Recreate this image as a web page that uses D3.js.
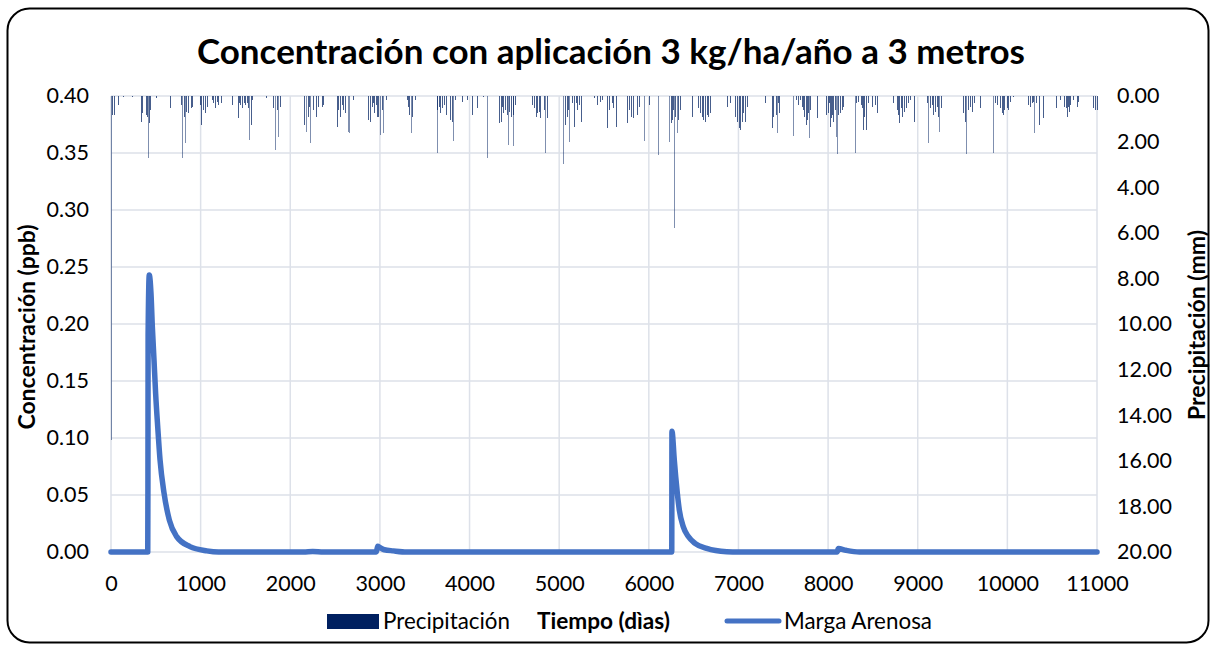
<!DOCTYPE html>
<html>
<head>
<meta charset="utf-8">
<script src="https://cdn.jsdelivr.net/npm/d3@7"></script>
<style>
  html, body { margin: 0; padding: 0; background: #ffffff; }
  svg { display: block; }
  text { font-family: Lato, "Open Sans", sans-serif; fill: #000; }
</style>
</head>
<body>
<svg id="chart" width="1215" height="648"></svg>
<script>
// Daily precipitation events (day, mm)
const precipDays = [5,15,37,74,138,231,331,342,387,402,417,428,435,498,662,781,789,811,830,841,856,893,908,993,1004,1030,1049,1068,1123,1142,1161,1179,1198,1228,1354,1414,1428,1443,1466,1481,1495,1514,1533,1544,1562,1577,1733,1804,1830,1849,1867,1886,2158,2176,2195,2210,2225,2258,2284,2314,2351,2370,2518,2537,2556,2574,2593,2611,2641,2660,2704,2871,2890,2909,2928,2939,2954,2965,2983,3002,3020,3039,3065,3300,3318,3329,3347,3362,3392,3634,3641,3656,3671,3689,3719,3737,3782,3800,3819,3837,3912,3967,4031,4079,4146,4198,4332,4347,4362,4377,4395,4414,4425,4443,4462,4481,4488,4510,4693,4719,4741,4756,4771,4786,4830,4838,4867,5046,5064,5083,5102,5113,5139,5169,5187,5202,5224,5247,5388,5425,5455,5473,5537,5559,5585,5604,5633,5760,5778,5797,5827,5871,5894,5949,6005,6106,6228,6243,6254,6273,6284,6295,6310,6329,6347,6485,6552,6570,6589,6608,6626,6645,6663,6682,6875,6905,6961,6979,7002,7017,7035,7054,7072,7091,7296,7370,7388,7418,7429,7444,7455,7612,7638,7667,7686,7705,7723,7734,7749,7768,7779,7790,7797,7879,7972,7995,8009,8021,8032,8047,8058,8076,8091,8099,8114,8132,8151,8169,8299,8307,8337,8367,8381,8392,8404,8422,8448,8485,8523,8541,8727,8764,8783,8794,8813,8827,8850,8865,8887,8913,8961,9099,9118,9136,9155,9173,9192,9210,9229,9240,9259,9508,9527,9541,9564,9582,9601,9627,9694,9843,9861,9880,9917,9936,9951,9965,9991,10010,10029,10058,10233,10252,10270,10289,10300,10315,10356,10393,10538,10587,10635,10650,10665,10680,10691,10702,10735,10772,10791,10957,10983,10995];
const precipMm = [15.1,0.83,0.83,0.39,0.06,0.03,1.13,0.76,0.83,0.9,2.73,1.2,0.6,0.1,0.54,0.4,2.73,0.9,2.05,0.7,0.76,0.54,0.47,0.4,1.27,0.61,0.76,0.47,0.18,0.32,0.54,0.25,0.4,0.32,0.4,0.98,0.32,0.4,0.54,0.3,0.4,0.32,0.54,1.93,1.27,0.18,0.1,0.54,2.37,0.61,1.78,0.47,1.27,1.56,0.9,0.5,2.08,0.61,0.9,0.47,0.47,0.4,1.35,0.61,0.9,0.4,0.61,0.76,1.56,1.64,0.18,1.05,1.13,0.47,0.3,0.76,0.4,0.9,0.9,1.71,0.61,1.64,0.18,0.18,0.5,0.83,1.64,0.9,0.18,0.61,2.49,0.5,0.76,0.54,0.4,0.83,1.05,1.13,1.96,0.18,0.25,0.18,0.83,0.54,0.03,2.73,1.2,1.13,0.47,0.76,0.61,0.83,2.15,0.69,0.9,0.83,2.19,0.4,0.4,0.54,0.9,0.76,0.69,0.98,0.61,2.49,0.98,2.98,1.27,0.9,0.61,2.0,0.32,1.35,0.32,0.61,0.4,1.13,0.1,0.4,0.25,0.18,1.42,0.61,0.32,0.54,1.35,1.2,0.61,0.9,0.98,0.83,0.47,1.96,0.4,2.59,2.0,1.2,1.05,0.61,5.8,0.9,1.64,1.05,0.61,0.9,0.54,0.76,0.9,1.05,1.13,0.83,0.9,0.76,0.47,0.32,0.9,1.13,1.42,1.49,1.13,0.76,1.13,0.47,0.32,1.42,0.9,0.83,1.64,0.32,0.76,1.75,0.18,0.4,0.18,0.47,0.61,0.9,1.27,1.05,0.76,1.86,0.61,0.98,0.83,0.76,0.32,1.35,0.98,0.83,1.13,0.61,1.78,2.54,0.83,0.76,0.61,0.47,2.51,0.32,0.25,0.4,0.54,1.49,0.9,1.49,0.32,0.47,0.4,0.76,0.32,0.61,0.83,1.2,0.54,0.9,0.69,0.54,0.32,0.18,1.13,0.32,2.05,0.54,0.4,0.83,0.69,0.47,0.9,1.56,0.54,0.76,1.13,2.54,0.61,0.47,0.69,0.32,0.54,2.49,0.32,0.4,0.54,0.76,0.83,0.61,0.54,0.61,0.25,0.03,0.4,0.47,0.32,0.25,1.64,0.32,1.27,0.98,0.54,0.18,0.47,0.54,0.9,0.47,0.69,0.4,0.18,0.47,0.25,0.54,0.61,0.61];

// Simulated concentration, sandy loam (day, ppb)
const concDays = [0,405,410,412,414,427,446,461,480,498,521,547,591,651,733,881,1068,1200,2150,2250,2370,2960,2975,3000,3050,3150,3300,6250,6256,6258,6284,6300,6318,6340,6385,6441,6515,6646,6869,7000,8100,8115,8200,8350,11000];
const concVals = [0,0,0,0.057,0.19,0.243,0.227,0.198,0.168,0.139,0.110,0.081,0.052,0.028,0.0135,0.0047,0.001,0,0,0.0004,0,0,0.005,0.004,0.002,0.001,0,0,0,0.106,0.081,0.066,0.0515,0.037,0.022,0.0135,0.0076,0.0032,0.0003,0,0,0.003,0.0015,0,0];

// Axis ticks
const xTicks = [0,1000,2000,3000,4000,5000,6000,7000,8000,9000,10000,11000];
const yLeftTicks = [0,0.05,0.10,0.15,0.20,0.25,0.30,0.35,0.40];
const yRightTicks = [0,2,4,6,8,10,12,14,16,18,20];

const titleText = "Concentración con aplicación 3 kg/ha/año a 3 metros";
const xTitle = "Tiempo (dìas)";
const yLeftTitle = "Concentración  (ppb)";
const yRightTitle = "Precipitación (mm)";
const seriesPrecip = "Precipitación";
const seriesConc = "Marga Arenosa";

const svg = d3.select("#chart");
const plot = { left: 111, right: 1097, top: 96, bottom: 552 };

// Scale a text element's font size so it spans the given width
function fitWidth(sel, size, width) {
  sel.style("font-size", size + "px");
  const w = sel.node().getComputedTextLength();
  sel.style("font-size", (size * width / w).toFixed(2) + "px");
  return sel;
}

// Outer rounded frame
svg.append("rect")
  .attr("x", 7.5).attr("y", 8.5).attr("width", 1201).attr("height", 634)
  .attr("rx", 22).attr("ry", 22)
  .attr("fill", "#fff").attr("stroke", "#000").attr("stroke-width", 2);

const x = d3.scaleLinear().domain([0, 11000]).range([plot.left, plot.right]);
const yL = d3.scaleLinear().domain([0, 0.4]).range([plot.bottom, plot.top]);
const yR = d3.scaleLinear().domain([0, 20]).range([plot.top, plot.bottom]);

// Grid
const grid = svg.append("g").attr("stroke", "#dde1e9").attr("stroke-width", 1.5);
grid.selectAll("line.h").data(yLeftTicks).join("line")
  .attr("x1", plot.left).attr("x2", plot.right)
  .attr("y1", d => yL(d)).attr("y2", d => yL(d));
grid.selectAll("line.v").data(xTicks).join("line")
  .attr("y1", plot.top).attr("y2", plot.bottom)
  .attr("x1", d => x(d)).attr("x2", d => x(d));

// Precipitation bars hanging from the top (reversed right axis)
svg.append("g").attr("shape-rendering", "crispEdges")
  .selectAll("rect").data(precipDays.map((d, i) => [d, precipMm[i]])).join("rect")
  .attr("x", d => Math.round(x(d[0])))
  .attr("width", 1)
  .attr("y", yR(0))
  .attr("height", d => yR(d[1]) - yR(0))
  .attr("fill", "#002060")
  .attr("fill-opacity", d => d[1] > 1.5 ? 0.5 : 0.72);

// Concentration line
const line = d3.line()
  .x(d => x(d))
  .y((d, i) => yL(concVals[i]))
  .curve(d3.curveMonotoneX);
svg.append("path")
  .attr("d", line(concDays))
  .attr("fill", "none")
  .attr("stroke", "#4472C4")
  .attr("stroke-width", 5.5)
  .attr("stroke-linejoin", "round")
  .attr("stroke-linecap", "round");

// Axes (labels only)
const fmt2 = d3.format(".2f");
const axL = d3.axisLeft(yL).tickValues(yLeftTicks).tickFormat(fmt2).tickSize(0).tickPadding(0);
const axR = d3.axisRight(yR).tickValues(yRightTicks).tickFormat(fmt2).tickSize(0).tickPadding(0);
const axB = d3.axisBottom(x).tickValues(xTicks).tickFormat(d3.format("d")).tickSize(0).tickPadding(0);

function styleAxis(g) {
  g.select(".domain").remove();
  g.selectAll("text").style("font-family", "Lato, sans-serif").style("font-size", "21.5px").attr("fill", "#000");
}
svg.append("g").attr("transform", `translate(${plot.left - 22},0)`).call(axL).call(styleAxis);
svg.append("g").attr("transform", `translate(${plot.right + 20},0)`).call(axR).call(styleAxis);
svg.append("g").attr("transform", `translate(0,${plot.bottom + 24})`).call(axB).call(styleAxis);

// Title
const title = svg.append("text")
  .attr("x", 611).attr("y", 64)
  .attr("text-anchor", "middle")
  .style("font-weight", "700")
  .text(titleText);
fitWidth(title, 31, 828);

// Axis titles
fitWidth(svg.append("text")
  .attr("transform", `translate(35,327) rotate(-90)`)
  .attr("text-anchor", "middle")
  .style("font-weight", "700")
  .text(yLeftTitle), 18, 205);
fitWidth(svg.append("text")
  .attr("transform", `translate(1205,325) rotate(-90)`)
  .attr("text-anchor", "middle")
  .style("font-weight", "700")
  .text(yRightTitle), 18, 190);

// Legend row with x-axis title
const lg = svg.append("g");
lg.append("rect").attr("x", 327).attr("y", 614).attr("width", 52).attr("height", 15).attr("fill", "#002060");
fitWidth(lg.append("text").attr("x", 383).attr("y", 629).text(seriesPrecip), 19, 127);
fitWidth(lg.append("text").attr("x", 537).attr("y", 629).style("font-weight", "700").text(xTitle), 19, 133);
lg.append("line").attr("x1", 727).attr("x2", 779).attr("y1", 621).attr("y2", 621)
  .attr("stroke", "#4472C4").attr("stroke-width", 5).attr("stroke-linecap", "round");
fitWidth(lg.append("text").attr("x", 784).attr("y", 629).text(seriesConc), 19, 148);
</script>
</body>
</html>
